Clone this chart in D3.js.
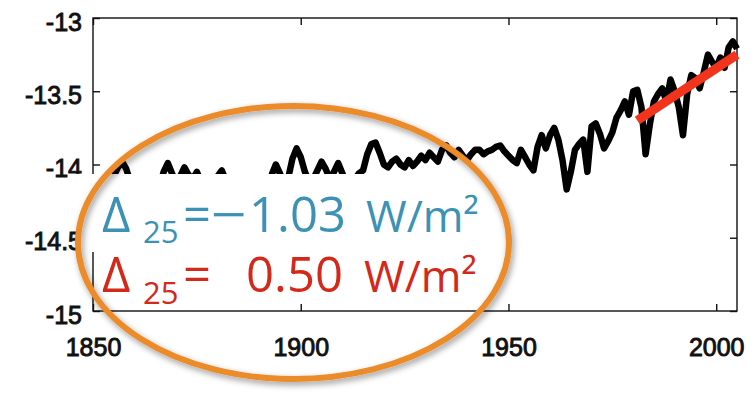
<!DOCTYPE html>
<html lang="en">
<head>
<meta charset="UTF-8">
<title>Forcing time series</title>
<style>
  body { margin: 0; background: #fff; }
  .tick text { font-family: "Liberation Sans", Arial, sans-serif; font-size: 25px; fill: #111; stroke: #111; stroke-width: 0.9px; }
  .ann { font-family: "Open Sans", sans-serif; }
</style>
</head>
<body>
<div id="chart"></div>
<script src="https://d3js.org/d3.v7.min.js"></script>
<script>
// annual values, 1850 onwards
var startYear = 1850;
var series = [
  -14.12, -14.15, -14.18, -14.10, -14.14, -14.08, -14.02, -13.98, -14.03, -14.12,
  -14.16, -14.20, -14.14, -14.18, -14.12, -14.09, -14.15, -14.05, -13.99, -14.06,
  -14.12, -14.08, -14.02, -14.07, -14.10, -14.05, -14.12, -14.17, -14.10, -14.14,
  -14.08, -14.04, -14.11, -14.16, -14.20, -14.14, -14.18, -14.12, -14.15, -14.10,
  -14.13, -14.17, -14.12, -14.07, -14.00, -14.06, -14.14, -14.09, -13.96, -13.89,
  -13.95, -14.05, -14.12, -14.10, -14.04, -13.98, -14.03, -14.10, -14.05, -13.99,
  -14.06, -14.13, -14.16, -14.10, -14.06, -14.04, -13.93, -13.86, -13.85, -13.92,
  -14.00, -14.02, -13.98, -13.96, -14.00, -14.02, -13.97, -14.01, -13.98, -13.94,
  -13.97, -13.92, -13.95, -13.98, -13.90, -13.87, -13.92, -13.95, -13.90, -13.94,
  -13.97, -13.93, -13.90, -13.90, -13.93, -13.91, -13.90, -13.88, -13.87, -13.91,
  -13.94, -13.97, -13.99, -13.90, -13.95, -14.00, -14.04, -13.88, -13.80, -13.89,
  -13.80, -13.75, -13.83, -13.97, -14.17, -14.05, -13.90, -13.86, -13.83, -14.05,
  -13.74, -13.72, -13.79, -13.89, -13.84, -13.78, -13.68, -13.63, -13.57, -13.66,
  -13.50, -13.49, -13.61, -13.93, -13.73, -13.57, -13.52, -13.48, -13.57, -13.42,
  -13.50, -13.61, -13.80, -13.52, -13.39, -13.41, -13.48, -13.37, -13.25, -13.30,
  -13.34, -13.27, -13.34, -13.20, -13.16, -13.21
];

// linear trend over the last 25 years
var trendYears = [1981, 2005];
var trendValues = [-13.70, -13.25];

var xTicks = [1850, 1900, 1950, 2000];
var yTicks = [-13, -13.5, -14, -14.5, -15];

var W = 756, H = 394;
var margin = { top: 18, right: 19, bottom: 83, left: 93 };
var width = W - margin.left - margin.right,
    height = H - margin.top - margin.bottom;

var x = d3.scaleLinear().domain([1850, 2005]).range([0, width]);
var y = d3.scaleLinear().domain([-15, -13]).range([height, 0]);

var svg = d3.select("#chart").append("svg")
    .attr("width", W)
    .attr("height", H)
    .style("background", "#fff");

var defs = svg.append("defs");
var f = defs.append("filter").attr("id", "shadow")
    .attr("x", "-10%").attr("y", "-10%").attr("width", "120%").attr("height", "125%");
f.append("feDropShadow")
    .attr("dx", 2).attr("dy", 3)
    .attr("stdDeviation", 3)
    .attr("flood-color", "#000")
    .attr("flood-opacity", 0.4);

var g = svg.append("g").attr("transform", "translate(" + margin.left + "," + margin.top + ")");

// frame
g.append("rect")
    .attr("width", width).attr("height", height)
    .attr("fill", "none").attr("stroke", "#111").attr("stroke-width", 1.4);

function styleAxis(sel) {
    sel.select(".domain").remove();
    sel.selectAll(".tick line").attr("stroke", "#111").attr("stroke-width", 1.4);
}

g.append("g").attr("transform", "translate(0," + height + ")")
    .call(d3.axisBottom(x).tickValues(xTicks).tickFormat(d3.format("d"))
        .tickSizeInner(-7).tickSizeOuter(0).tickPadding(30))
    .call(styleAxis)
    .selectAll("text").attr("dy", 0).attr("y", 45);

g.append("g")
    .call(d3.axisTop(x).tickValues(xTicks).tickFormat("").tickSizeInner(-7).tickSizeOuter(0))
    .call(styleAxis);

g.append("g")
    .call(d3.axisLeft(y).tickValues(yTicks).tickFormat(function(d) { return d; })
        .tickSizeInner(-7).tickSizeOuter(0).tickPadding(11))
    .call(styleAxis)
    .selectAll("text").attr("dy", 0).attr("y", 12);

g.append("g").attr("transform", "translate(" + width + ",0)")
    .call(d3.axisRight(y).tickValues(yTicks).tickFormat("").tickSizeInner(-7).tickSizeOuter(0))
    .call(styleAxis);

// data line
var line = d3.line()
    .x(function(d, i) { return x(startYear + i); })
    .y(function(d) { return y(d); });

g.append("path")
    .datum(series)
    .attr("fill", "none")
    .attr("stroke", "#000")
    .attr("stroke-width", 6.5)
    .attr("stroke-linejoin", "round")
    .attr("d", line);

// trend
g.append("line")
    .attr("x1", x(trendYears[0])).attr("y1", y(trendValues[0]))
    .attr("x2", x(trendYears[1])).attr("y2", y(trendValues[1]))
    .attr("stroke", "#f2341c")
    .attr("stroke-width", 9);

// annotation: white box behind first line, orange ellipse, text
svg.append("rect")
    .attr("x", 76).attr("y", 174)
    .attr("width", 420).attr("height", 78)
    .attr("fill", "#fff");

svg.append("ellipse")
    .attr("cx", 293.5).attr("cy", 242.5)
    .attr("rx", 215.5).attr("ry", 136.5)
    .attr("fill", "none")
    .attr("stroke", "#ec8b2b")
    .attr("stroke-width", 6)
    .attr("filter", "url(#shadow)");

var blue = "#3b92b4", red = "#d3281a";

function deltaLine(yBase, color, parts) {
    var t = svg.append("g").attr("class", "ann").attr("fill", color);
    parts.forEach(function(p) {
        var el = t.append("text")
            .attr("x", p.x).attr("y", yBase + (p.dy || 0))
            .attr("font-size", p.size)
            .text(p.s);
        if (p.len) el.attr("textLength", p.len).attr("lengthAdjust", "spacingAndGlyphs");
    });
}

deltaLine(232, blue, [
    { s: "\u0394", x: 102, size: 49 },
    { s: "25", x: 143, size: 31, dy: 11 },
    { s: "=", x: 183, size: 49 },
    { s: "\u2212", x: 211, size: 49, len: 36 },
    { s: "1.03", x: 249, size: 49 },
    { s: "W/m\u00b2", x: 366, size: 44 }
]);

deltaLine(292, red, [
    { s: "\u0394", x: 102, size: 49 },
    { s: "25", x: 143, size: 31, dy: 12 },
    { s: "=", x: 183, size: 49 },
    { s: "0.50", x: 246, size: 49 },
    { s: "W/m\u00b2", x: 364, size: 44 }
]);
</script>
</body>
</html>
